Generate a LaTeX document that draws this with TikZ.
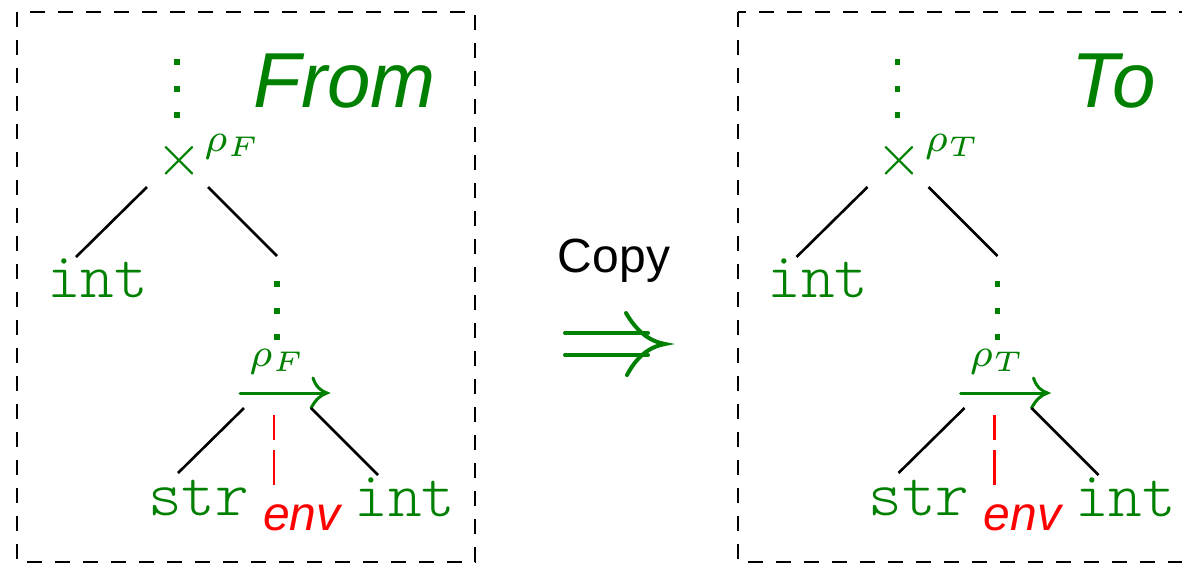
\documentclass[tikz,border=0pt]{standalone}
\usepackage{fontspec}
\newfontfamily\sansfont{Liberation Sans}
\newfontfamily\monofont{Latin Modern Mono Light}
\definecolor{tgreen}{RGB}{0,128,0}
\begin{document}
\begin{tikzpicture}[x=1pt,y=-1pt,
  branch/.style={line width=2.6pt},
  framebox/.style={line width=2.8pt, dash pattern=on 15pt off 13pt},
  envline/.style={red, line width=2.4pt, dash pattern=on 25pt off 10pt on 40pt off 10pt},
  dotmark/.style={fill=tgreen, draw=none, shape=rectangle, minimum size=5.5pt, inner sep=0pt},
  typename/.style={text=tgreen, font=\fontsize{64}{70}\monofont, inner sep=0pt, anchor=base},
  mathtxt/.style={text=tgreen, inner sep=0pt},
  heading/.style={text=tgreen, font=\fontsize{78}{90}\sansfont\itshape, inner sep=0pt, anchor=base east},
  envtxt/.style={text=red, font=\fontsize{48}{56}\sansfont\itshape, inner sep=0pt, anchor=base},
  arrowline/.style={tgreen, line width=3pt, line cap=round},
  bigarrow/.style={tgreen, line width=4pt, line cap=round}
]
\useasboundingbox (0,0) rectangle (1182,566);

% the two frames
\draw[framebox] (17,12) rectangle (475,562);
\draw[framebox] (738,12) rectangle (1200,562);

% headings
\node[heading] (from) at (436,107) {From};
\node[heading] (to) at (1156,107) {To};

% one type tree per frame
\foreach \dx/\s/\n in {0/F/L, 720.5/T/R} {
  \begin{scope}[shift={(\dx,0)}]
    % elided path above the product
    \node[dotmark] (\n-u1) at (177,62) {};
    \node[dotmark] (\n-u2) at (177,89) {};
    \node[dotmark] (\n-u3) at (177,115) {};
    % product node
    \node[mathtxt] (\n-times) at (179,161) {\scalebox{5.9}{$\times$}};
    \node[mathtxt, anchor=base west] (\n-rho1) at (204,151) {\scalebox{5.7}{$\scriptstyle\rho_{\s}$}};
    \coordinate (\n-tl) at (147,187);
    \coordinate (\n-tr) at (208,187);
    \node[typename] (\n-int1) at (97.5,297) {int};
    \coordinate (\n-int1top) at (76,257);
    \coordinate (\n-rtop) at (277,256);
    \draw[branch] (\n-tl) -- (\n-int1top);
    \draw[branch] (\n-tr) -- (\n-rtop);
    % elided path down to the function
    \node[dotmark] (\n-m1) at (277,284) {};
    \node[dotmark] (\n-m2) at (277,311) {};
    \node[dotmark] (\n-m3) at (277,337) {};
    % function arrow
    \node[mathtxt, anchor=base west] (\n-rho2) at (249,366) {\scalebox{5.7}{$\scriptstyle\rho_{\s}$}};
    \coordinate (\n-fa) at (240,393);
    \coordinate (\n-fb) at (325,393);
    \coordinate (\n-fh1) at (313,378);
    \coordinate (\n-ftip) at (327,393);
    \coordinate (\n-fh2) at (311,408);
    \draw[arrowline] (\n-fa) -- (\n-fb);
    \draw[arrowline] (\n-fh1) .. controls (316,387) and (321,391) .. (\n-ftip)
                     .. controls (321,395) and (316,399) .. (\n-fh2);
    % argument, environment and result
    \coordinate (\n-bl) at (244,408);
    \coordinate (\n-br) at (311,408);
    \coordinate (\n-strtop) at (178,473);
    \coordinate (\n-int2top) at (378,475);
    \coordinate (\n-envtop) at (274,415);
    \coordinate (\n-envbot) at (274,485);
    \node[typename] (\n-str) at (198.5,515) {str};
    \node[typename] (\n-int2) at (405,516) {int};
    \node[envtxt] (\n-env) at (302,530) {env};
    \draw[branch] (\n-bl) -- (\n-strtop);
    \draw[branch] (\n-br) -- (\n-int2top);
    \draw[envline] (\n-envtop) -- (\n-envbot);
  \end{scope}
}

% copy step between the frames
\node[font=\fontsize{48}{56}\sansfont, inner sep=0pt, anchor=base] (copy) at (614,272) {Copy};
\coordinate (ia1) at (565,333);
\coordinate (ib1) at (648,333);
\coordinate (ia2) at (565,355);
\coordinate (ib2) at (648,355);
\coordinate (ih1) at (626,313);
\coordinate (itip) at (665,344);
\coordinate (ih2) at (627,375);
\draw[bigarrow] (ia1) -- (ib1);
\draw[bigarrow] (ia2) -- (ib2);
\draw[bigarrow] (ih1) .. controls (636,330) and (648,341) .. (itip)
                .. controls (648,347) and (636,358) .. (ih2);
\end{tikzpicture}
\end{document}
